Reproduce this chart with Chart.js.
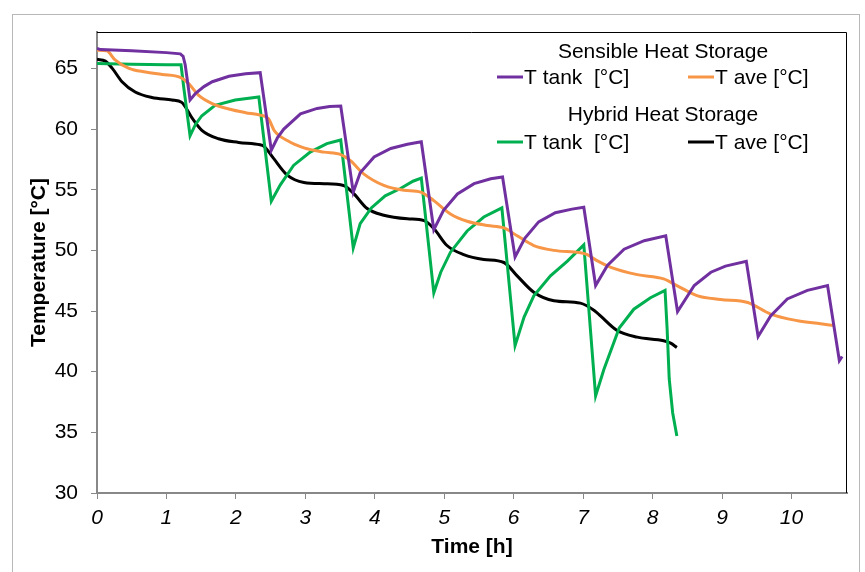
<!DOCTYPE html>
<html>
<head>
<meta charset="utf-8">
<script src="https://cdn.jsdelivr.net/npm/chart.js@4"></script>
<style>
  body { margin: 0; background: #fff; }
  .frame { position: absolute; left: 12px; top: 14px; width: 846px; height: 600px; border: 1px solid #b8b8b8; }
  .wrap { position: absolute; left: 0; top: 0; width: 865px; height: 572px; }
</style>
</head>
<body>
<div class="frame"></div>
<div class="wrap"><canvas id="chart" width="865" height="572"></canvas></div>
<script>
// [time h, temperature °C]
const sensibleTank = [
  [0, 66.65], [0.05, 66.55], [0.5, 66.45], [1.0, 66.3], [1.2, 66.2], [1.24, 66.0], [1.27, 65.3], [1.34, 62.4],
  [1.42, 62.95], [1.54, 63.5], [1.66, 63.9], [1.9, 64.35], [2.14, 64.55], [2.35, 64.65],
  [2.51, 58.25], [2.6, 59.3], [2.69, 60.0], [2.93, 61.25], [3.17, 61.7], [3.35, 61.85], [3.51, 61.9],
  [3.69, 54.8], [3.79, 56.4], [3.99, 57.7], [4.23, 58.4], [4.47, 58.75], [4.67, 58.95],
  [4.85, 51.7], [4.99, 53.3], [5.19, 54.65], [5.43, 55.5], [5.67, 55.9], [5.84, 56.05],
  [6.02, 49.45], [6.16, 51.0], [6.36, 52.35], [6.6, 53.1], [6.84, 53.4], [7.01, 53.55],
  [7.18, 47.1], [7.35, 48.75], [7.59, 50.1], [7.88, 50.8], [8.19, 51.2],
  [8.36, 44.95], [8.6, 47.1], [8.84, 48.2], [9.05, 48.7], [9.35, 49.1],
  [9.52, 42.9], [9.7, 44.6], [9.94, 46.0], [10.23, 46.7], [10.52, 47.1],
  [10.69, 40.9], [10.73, 41.25]
];
const sensibleAve = [
  [0, 66.5], [0.14, 66.45], [0.26, 65.7], [0.46, 65.0], [0.7, 64.7], [0.94, 64.5], [1.2, 64.25],
  [1.32, 63.75], [1.46, 62.8], [1.66, 62.1], [1.9, 61.65], [2.14, 61.35], [2.35, 61.15], [2.47, 60.85],
  [2.55, 59.9], [2.74, 59.05], [2.98, 58.45], [3.27, 58.1], [3.51, 57.9], [3.65, 57.4], [3.84, 56.3],
  [4.13, 55.35], [4.42, 54.95], [4.66, 54.8], [4.85, 54.1], [5.09, 53.0], [5.33, 52.4], [5.62, 52.05],
  [5.86, 51.85], [6.05, 51.2], [6.29, 50.4], [6.58, 50.0], [6.96, 49.8], [7.06, 49.65], [7.2, 49.15],
  [7.4, 48.6], [7.78, 48.0], [8.16, 47.65], [8.35, 47.1], [8.65, 46.25], [8.98, 45.95], [9.37, 45.7],
  [9.7, 44.75], [10.09, 44.2], [10.42, 43.95], [10.61, 43.8]
];
const hybridTank = [
  [0, 65.4], [0.5, 65.35], [1.0, 65.3], [1.21, 65.3], [1.25, 63.4], [1.34, 59.45],
  [1.42, 60.4], [1.51, 61.1], [1.7, 61.95], [1.99, 62.4], [2.33, 62.65],
  [2.51, 54.05], [2.64, 55.4], [2.83, 57.0], [3.07, 58.1], [3.31, 58.8], [3.51, 59.1],
  [3.69, 50.2], [3.79, 52.2], [3.95, 53.5], [4.15, 54.5], [4.37, 55.1], [4.55, 55.7], [4.67, 55.95],
  [4.85, 46.5], [4.95, 48.2], [5.09, 49.85], [5.33, 51.6], [5.57, 52.75], [5.83, 53.5],
  [6.02, 42.15], [6.15, 44.5], [6.29, 46.25], [6.53, 47.9], [6.77, 49.1], [7.01, 50.45],
  [7.18, 38.0], [7.3, 40.2], [7.52, 43.6], [7.73, 45.15], [7.97, 46.1], [8.18, 46.7],
  [8.21, 43.5], [8.24, 39.4], [8.29, 36.6], [8.35, 34.7]
];
const hybridAve = [
  [0, 65.75], [0.12, 65.6], [0.22, 65.0], [0.36, 63.9], [0.55, 63.05], [0.79, 62.6], [1.08, 62.4],
  [1.22, 62.2], [1.37, 60.9], [1.51, 59.9], [1.75, 59.2], [2.04, 58.9], [2.35, 58.7], [2.4, 58.6],
  [2.54, 57.6], [2.74, 56.2], [2.98, 55.6], [3.27, 55.5], [3.55, 55.35], [3.7, 54.65], [3.89, 53.45],
  [4.13, 52.9], [4.47, 52.6], [4.71, 52.45], [4.85, 51.8], [5.04, 50.4], [5.28, 49.65], [5.57, 49.25],
  [5.86, 49.0], [6.05, 47.9], [6.29, 46.55], [6.58, 45.85], [6.96, 45.65], [7.16, 45.05], [7.25, 44.6],
  [7.49, 43.4], [7.78, 42.85], [8.16, 42.55], [8.26, 42.35], [8.35, 42.0]
];

const xTicks = [0, 1, 2, 3, 4, 5, 6, 7, 8, 9, 10];
const yTicks = [30, 35, 40, 45, 50, 55, 60, 65];
const groupTitles = ['Sensible Heat Storage', 'Hybrid Heat Storage'];

const FONT = "'Liberation Sans', Arial, sans-serif";
const FS = 21;
const toPoints = arr => arr.map(p => ({ x: p[0], y: p[1] }));

function series(label, data, color, smooth) {
  return {
    label: label,
    data: toPoints(data),
    borderColor: color,
    backgroundColor: color,
    borderWidth: 3,
    pointRadius: 0,
    fill: false,
    tension: 0,
    cubicInterpolationMode: smooth ? 'monotone' : 'default'
  };
}

// draws the black top/right frame and the two-group legend
const frameAndLegend = {
  id: 'frameAndLegend',
  afterDraw(chart) {
    const { ctx, chartArea: a } = chart;
    const ds = chart.data.datasets;
    ctx.save();
    ctx.strokeStyle = '#000';
    ctx.lineWidth = 1;
    ctx.beginPath();
    ctx.moveTo(a.left, a.top + 0.5);
    ctx.lineTo(a.right - 0.5, a.top + 0.5);
    ctx.lineTo(a.right - 0.5, a.bottom);
    ctx.stroke();

    ctx.font = FS + 'px ' + FONT;
    ctx.fillStyle = '#000';
    ctx.textBaseline = 'middle';
    const titleY = [20, 83];
    const rowY = [45, 110];
    for (let g = 0; g < 2; g++) {
      ctx.textAlign = 'center';
      ctx.fillText(groupTitles[g], a.right - 184, a.top + titleY[g]);
      ctx.textAlign = 'left';
      const items = [ds[g * 2], ds[g * 2 + 1]];
      const starts = [a.right - 350, a.right - 159];
      items.forEach((d, i) => {
        const y = a.top + rowY[g];
        ctx.strokeStyle = d.borderColor;
        ctx.lineWidth = 3;
        ctx.beginPath();
        ctx.moveTo(starts[i], y);
        ctx.lineTo(starts[i] + 26, y);
        ctx.stroke();
        ctx.fillText(d.label, starts[i] + 27, y + 1);
      });
    }
    ctx.restore();
  }
};

const ctx = document.getElementById('chart').getContext('2d');
const chart = new Chart(ctx, {
  type: 'line',
  data: {
    datasets: [
      series('T tank  [°C]', sensibleTank, '#7030A0', false),
      series('T ave [°C]', sensibleAve, '#F79646', true),
      series('T tank  [°C]', hybridTank, '#00B050', false),
      series('T ave [°C]', hybridAve, '#000000', true)
    ]
  },
  options: {
    responsive: false,
    animation: false,
    layout: { padding: { top: 32, right: 18, bottom: 0, left: 0 } },
    plugins: { legend: { display: false }, tooltip: { enabled: false } },
    scales: {
      x: {
        type: 'linear',
        min: 0,
        max: 10.8,
        afterBuildTicks: s => { s.ticks = xTicks.map(v => ({ value: v })); },
        afterFit: s => { s.height = 79; },
        ticks: { font: { family: FONT, size: FS, style: 'italic' }, color: '#000', padding: 7, maxRotation: 0 },
        grid: { drawOnChartArea: false, tickLength: 6, color: '#888' },
        border: { color: '#888', width: 2 },
        title: { display: true, text: 'Time [h]', color: '#000', font: { family: FONT, size: FS, weight: 'bold' }, padding: { top: 0, bottom: 12 } }
      },
      y: {
        type: 'linear',
        min: 30,
        max: 68,
        afterBuildTicks: s => { s.ticks = yTicks.map(v => ({ value: v })); },
        afterFit: s => { s.width = 97; },
        ticks: { font: { family: FONT, size: FS }, color: '#000', padding: 13 },
        grid: { drawOnChartArea: false, tickLength: 6, color: '#888' },
        border: { color: '#888', width: 2 },
        title: { display: true, text: 'Temperature [°C]', color: '#000', font: { family: FONT, size: FS, weight: 'bold' }, padding: { top: 27, bottom: 0 } }
      }
    }
  },
  plugins: [frameAndLegend]
});
</script>
</body>
</html>
